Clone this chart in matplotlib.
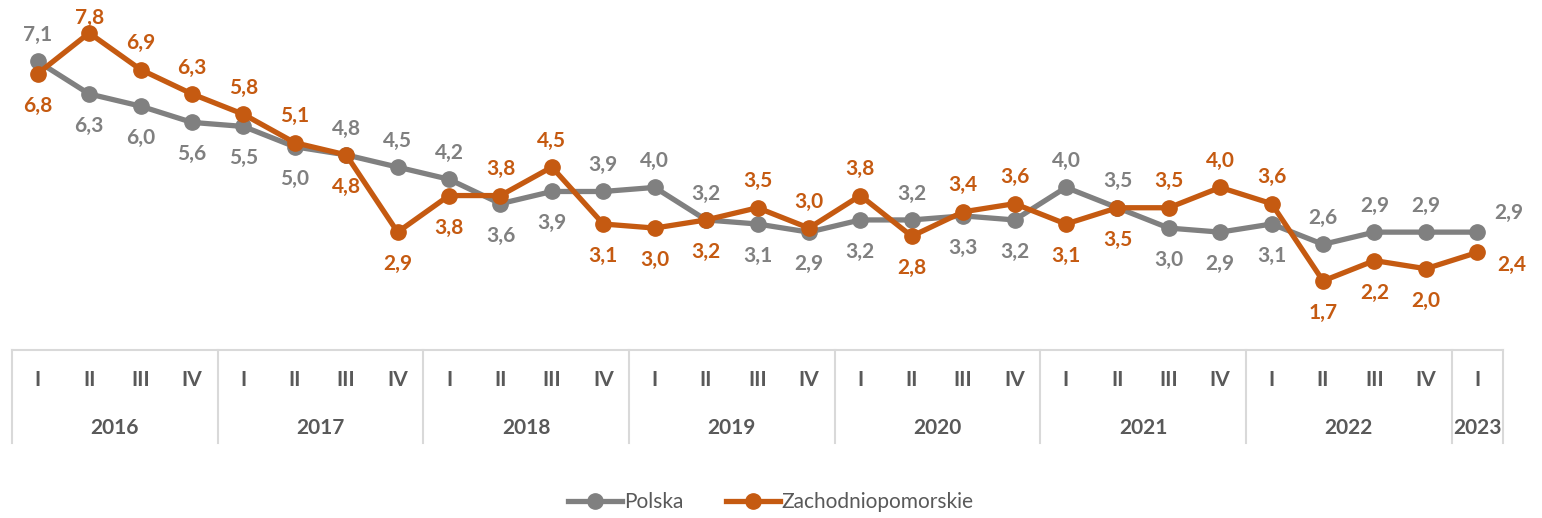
import numpy as np
import matplotlib
matplotlib.use('Agg')
import matplotlib.pyplot as plt

quarters = ['I', 'II', 'III', 'IV'] * 7 + ['I']
years = ['2016', '2017', '2018', '2019', '2020', '2021', '2022', '2023']
polska = [7.1, 6.3, 6.0, 5.6, 5.5, 5.0, 4.8, 4.5, 4.2, 3.6, 3.9, 3.9, 4.0, 3.2,
          3.1, 2.9, 3.2, 3.2, 3.3, 3.2, 4.0, 3.5, 3.0, 2.9, 3.1, 2.6, 2.9, 2.9, 2.9]
zachodniopomorskie = [6.8, 7.8, 6.9, 6.3, 5.8, 5.1, 4.8, 2.9, 3.8, 3.8, 4.5, 3.1, 3.0, 3.2,
                      3.5, 3.0, 3.8, 2.8, 3.4, 3.6, 3.1, 3.5, 3.5, 4.0, 3.6, 1.7, 2.2, 2.0, 2.4]

GRAY = '#808080'
ORANGE = '#C55A11'
TXT = '#595959'
GRID = '#D9D9D9'

plt.rcParams['font.family'] = ['Lato', 'DejaVu Sans']

fig = plt.figure(figsize=(15.42, 5.18), dpi=100)
ax = fig.add_axes([0.0078, 0.3243, 0.9669, 0.667])
x = np.arange(len(quarters))

ax.plot(x, polska, color=GRAY, lw=3.8, marker='o', ms=11, label='Polska', zorder=3)
ax.plot(x, zachodniopomorskie, color=ORANGE, lw=3.8, marker='o', ms=11,
        label='Zachodniopomorskie', zorder=4)


def fmt(v):
    return f'{v:.1f}'.replace('.', ',')


# value labels: higher series above the point, lower one below
top = max(zachodniopomorskie + polska)
last = len(x) - 1
for i in range(len(x)):
    p, z = polska[i], zachodniopomorskie[i]
    if i == last:
        ax.annotate(fmt(p), (i, p), xytext=(23, 14), textcoords='offset points',
                    ha='center', va='center', color=GRAY, fontsize=15, fontweight='bold')
        ax.annotate(fmt(z), (i, z), xytext=(25, -9), textcoords='offset points',
                    ha='center', va='center', color=ORANGE, fontsize=15, fontweight='bold')
        continue
    p_up = p >= z
    for v, col, up in ((p, GRAY, p_up), (z, ORANGE, not p_up)):
        if up:
            dy = 11 if v == top else 19  # keep the peak label inside the figure
        else:
            dy = -23
        ax.annotate(fmt(v), (i, v), xytext=(0, dy), textcoords='offset points',
                    ha='center', va='center', color=col, fontsize=15, fontweight='bold')

ax.set_xlim(-0.5, len(x) - 0.5)
ax.set_ylim(0, 8.5)
ax.axis('off')

# two-level category axis drawn as a table under the plot
tr = ax.get_xaxis_transform()
ax.plot([-0.5, len(x) - 0.5], [0, 0], color=GRID, lw=1.5, transform=tr, clip_on=False)
for b in [-0.5, 3.5, 7.5, 11.5, 15.5, 19.5, 23.5, 27.5, 28.5]:
    ax.plot([b, b], [0, -0.27], color=GRID, lw=1.5, transform=tr, clip_on=False)
for i, q in enumerate(quarters):
    ax.text(i, -0.087, q, transform=tr, ha='center', va='center',
            color=TXT, fontsize=15, fontweight='bold')
for k, yr in enumerate(years):
    cx = 4 * k + 1.5 if k < 7 else 28
    ax.text(cx, -0.226, yr, transform=tr, ha='center', va='center',
            color=TXT, fontsize=15, fontweight='bold')

leg = fig.legend(loc='center', bbox_to_anchor=(0.5, 0.03), ncol=2, frameon=False,
                 fontsize=15, handlelength=2.6, columnspacing=2.0, handletextpad=0.1)
for t in leg.get_texts():
    t.set_color(TXT)

fig.savefig('out.png', dpi=100)
